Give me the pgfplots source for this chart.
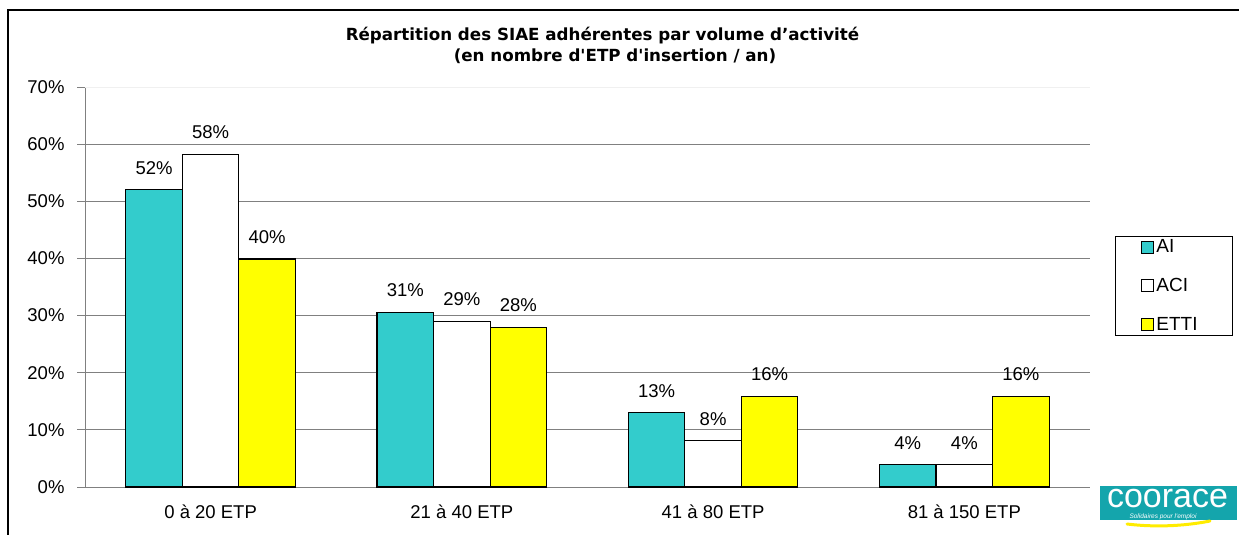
\documentclass[border=0pt]{standalone}
\usepackage{pgfplots}
\pgfplotsset{compat=1.18}
\usepackage{fontspec}
\setmainfont{Liberation Sans}
\newfontfamily\titlefont{DejaVu Sans}
\definecolor{aiteal}{RGB}{51,204,204}
\definecolor{ettiyellow}{RGB}{255,255,0}
\definecolor{gridgray}{RGB}{128,128,128}
\definecolor{logoteal}{RGB}{20,165,172}
\begin{document}
\begin{tikzpicture}[x=1pt,y=1pt]
\path[use as bounding box] (0,0) rectangle (1239,-535);
\draw[line width=1.2pt] (8,-540) -- (8,-10) -- (1245,-10);
\node[anchor=base, inner sep=0pt, font=\titlefont\fontsize{16.7}{20}\selectfont\bfseries] at (602.5,-41) {Répartition des SIAE adhérentes par volume d’activité};
\node[anchor=base, inner sep=0pt, font=\titlefont\fontsize{16.7}{20}\selectfont\bfseries] at (615,-62) {(en nombre d\textquotesingle ETP d\textquotesingle insertion / an)};
\begin{axis}[
  at={(85pt,-487pt)}, anchor=south west,
  scale only axis, width=1005pt, height=400pt,
  font=\fontsize{18.5}{22}\selectfont,
  /pgf/number format/assume math mode=true,
  ybar=0pt, bar width=0.225,
  xmin=-0.5, xmax=3.5, ymin=0, ymax=70,
  axis x line*=bottom, axis y line*=left,
  axis line style={gridgray, line width=1pt, -},
  xtick={0,1,2,3},
  xticklabels={0 à 20 ETP, 21 à 40 ETP, 41 à 80 ETP, 81 à 150 ETP},
  xticklabel style={yshift=-6pt},
  x tick style={draw=none},
  extra x ticks={-0.5,0.5,1.5,2.5,3.5},
  extra x tick labels={},
  extra x tick style={tick style={draw=gridgray, line width=1pt}, major tick length=7pt, tick align=outside, grid=none},
  ytick={0,10,...,60},
  extra y ticks={70},
  extra y tick style={grid style={gray!12, line width=1pt}},
  yticklabel={\pgfmathprintnumber{\tick}\%},
  yticklabel style={xshift=-9pt},
  ymajorgrids, grid style={gridgray, line width=1pt},
  y tick style={gridgray, line width=1pt}, tick align=outside, major tick length=8pt,
  nodes near coords={\pgfmathprintnumber[fixed,precision=0]{\pgfplotspointmeta}\%},
  nodes near coords style={anchor=center, yshift=22pt, font=\fontsize{18.5}{22}\selectfont, text=black},
  legend style={at={(1.0249,0.6275)}, anchor=north west, draw=black, line width=0.8pt,
    inner xsep=26pt, inner ysep=1.5pt, row sep=20pt, font=\fontsize{19}{22}\selectfont, cells={anchor=west}},
  legend image code/.code={\draw[#1, draw=black, line width=1pt] (0pt,-6pt) rectangle (12pt,6pt);},
]
\addplot[fill=aiteal, draw=black, line width=1.2pt] coordinates {(0,52) (1,30.6) (2,13) (3,3.9)};
\addplot[fill=white, draw=black, line width=1.2pt] coordinates {(0,58.2) (1,29) (2,8.1) (3,3.9)};
\addplot[fill=ettiyellow, draw=black, line width=1.2pt] coordinates {(0,39.9) (1,27.9) (2,15.9) (3,15.9)};
\legend{\makebox[48pt][l]{AI},\makebox[48pt][l]{ACI},\makebox[48pt][l]{ETTI}}
\end{axis}
\node[anchor=north west, fill=logoteal, minimum width=137pt, minimum height=34pt, inner sep=0pt] at (1100,-486) {};
\draw[ettiyellow!85!orange, line width=3pt, line cap=round] (1127,-524) .. controls (1160,-528) and (1190,-525) .. (1210,-521);
\node[anchor=base, inner sep=0pt, text=white, font=\fontsize{34}{34}\selectfont] at (1167.5,-507) {coorace};
\node[anchor=base, inner sep=0pt, text=white, font=\fontsize{6.5}{7}\selectfont\itshape] at (1163,-518) {Solidaires pour l\textquotesingle emploi};
\end{tikzpicture}
\end{document}
